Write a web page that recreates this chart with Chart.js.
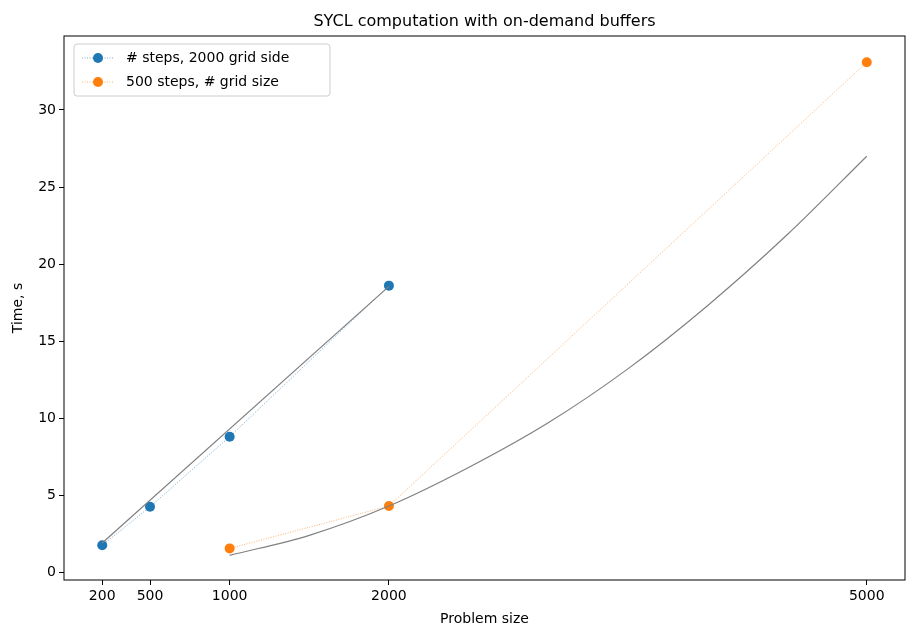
<!DOCTYPE html>
<html>
<head>
<meta charset="utf-8">
<script src="https://cdn.jsdelivr.net/npm/chart.js@4/dist/chart.umd.min.js"></script>
<style>
  body { margin: 0; background: #fff; }
  #wrap { width: 915px; height: 640px; }
</style>
</head>
<body>
<div id="wrap"><canvas id="c"></canvas></div>
<script>
const stepsX = [200, 500, 1000, 2000];
const stepsTime = [1.75, 4.25, 8.8, 18.6];
const gridX = [1000, 2000, 5000];
const gridTime = [1.55, 4.3, 33.1];
const linFitX = [200, 2000];
const linFitY = [1.9, 18.55];
const quadFitX = [1000, 1500, 2000, 2500, 3000, 3500, 4000, 4500, 5000];
const quadFitY = [1.1, 2.4, 4.3, 6.8, 9.7, 13.2, 17.3, 21.9, 27.0];
const xTicks = [200, 500, 1000, 2000, 5000];
const yTicks = [0, 5, 10, 15, 20, 25, 30];

const pts = (xs, ys) => xs.map((x, i) => ({ x, y: ys[i] }));
const FONT = 'DejaVu Sans';
Chart.defaults.font.family = FONT;
Chart.defaults.color = '#000';

const frame = {
    id: 'frame',
    afterDraw(chart) {
        const { ctx, chartArea: a } = chart;
        ctx.save();
        ctx.strokeStyle = '#000';
        ctx.lineWidth = 1;
        ctx.strokeRect(a.left, a.top, a.right - a.left, a.bottom - a.top);
        ctx.font = '16px ' + FONT;
        ctx.textAlign = 'center';
        ctx.fillStyle = '#000';
        ctx.fillText('SYCL computation with on-demand buffers', (a.left + a.right) / 2, 26);
        // legend
        const lx = a.left + 10, ly = a.top + 8;
        ctx.fillStyle = '#fff';
        ctx.strokeStyle = '#ccc';
        ctx.beginPath();
        ctx.roundRect(lx, ly, 256, 52, 3);
        ctx.fill();
        ctx.stroke();
        const items = [['# steps, 2000 grid side', '#1f77b4'], ['500 steps, # grid size', '#ff7f0e']];
        ctx.font = '14px ' + FONT;
        ctx.textAlign = 'left';
        ctx.textBaseline = 'middle';
        items.forEach(([label, col], i) => {
            const y = ly + 14 + i * 24;
            ctx.strokeStyle = col;
            ctx.lineWidth = 0.6;
            ctx.setLineDash([1, 1.5]);
            ctx.beginPath();
            ctx.moveTo(lx + 8, y);
            ctx.lineTo(lx + 40, y);
            ctx.stroke();
            ctx.setLineDash([]);
            ctx.fillStyle = col;
            ctx.beginPath();
            ctx.arc(lx + 24, y, 5, 0, Math.PI * 2);
            ctx.fill();
            ctx.fillStyle = '#000';
            ctx.fillText(label, lx + 52, y);
        });
        ctx.restore();
    }
};

new Chart(document.getElementById('c'), {
    type: 'scatter',
    data: {
        datasets: [
            { data: pts(linFitX, linFitY), showLine: true, borderColor: '#808080', borderWidth: 1.2, pointRadius: 0 },
            { data: pts(quadFitX, quadFitY), showLine: true, borderColor: '#808080', borderWidth: 1.2, pointRadius: 0, cubicInterpolationMode: 'monotone' },
            { data: pts(stepsX, stepsTime), showLine: true, borderColor: '#1f77b4', borderWidth: 0.6, borderDash: [1, 1.5], pointRadius: 5, pointBackgroundColor: '#1f77b4', pointBorderWidth: 0 },
            { data: pts(gridX, gridTime), showLine: true, borderColor: '#ff7f0e', borderWidth: 0.6, borderDash: [1, 1.5], pointRadius: 5, pointBackgroundColor: '#ff7f0e', pointBorderWidth: 0 },
        ]
    },
    options: {
        responsive: true,
        maintainAspectRatio: false,
        animation: false,
        layout: { padding: { top: 36, right: 10, left: 6, bottom: 8 } },
        plugins: { legend: { display: false }, title: { display: false }, tooltip: { enabled: false } },
        scales: {
            x: {
                type: 'linear', min: -40, max: 5240,
                afterFit: s => { s.height = 52; },
                afterBuildTicks: s => { s.ticks = xTicks.map(v => ({ value: v })); },
                grid: { drawOnChartArea: false, drawTicks: true, tickLength: 5, color: '#000' },
                border: { display: false },
                ticks: { font: { size: 14 }, padding: 3, maxRotation: 0, autoSkip: false, callback: v => String(v) },
                title: { display: true, text: 'Problem size', font: { size: 14 }, padding: { top: 0 } }
            },
            y: {
                min: -0.5, max: 34.8,
                afterFit: s => { s.width = 58; },
                afterBuildTicks: s => { s.ticks = yTicks.map(v => ({ value: v })); },
                grid: { drawOnChartArea: false, drawTicks: true, tickLength: 5, color: '#000' },
                border: { display: false },
                ticks: { font: { size: 14 }, padding: 3 },
                title: { display: true, text: 'Time, s', font: { size: 14 }, padding: { bottom: 2 } }
            }
        }
    },
    plugins: [frame]
});
</script>
</body>
</html>
